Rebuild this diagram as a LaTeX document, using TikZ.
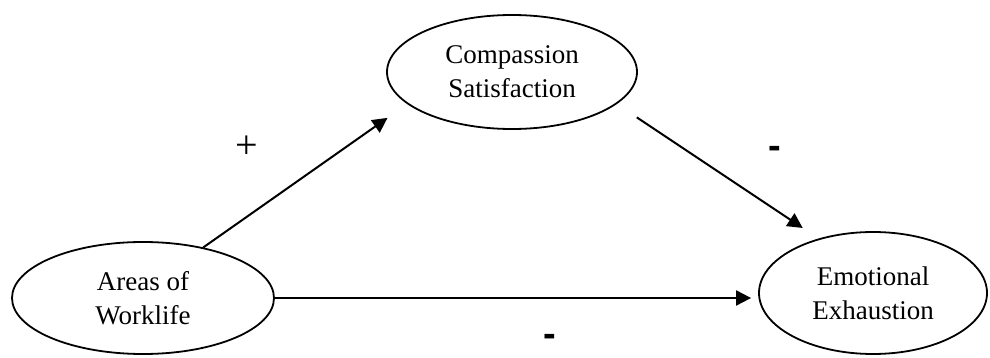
\documentclass[tikz,border=0pt]{standalone}
\usepackage{fontspec}
\setmainfont{Liberation Serif}
\newfontfamily\signfont{Liberation Sans}
\usetikzlibrary{shapes.geometric,arrows.meta}

\begin{document}
\begin{tikzpicture}[x=0.5pt,y=-0.5pt,
        var/.style={draw, ellipse, line width=0.9pt, inner sep=0pt, align=center,
            font=\fontsize{13.5}{17}\selectfont},
        arr/.style={-{Triangle[length=7.5pt,width=7.5pt]}, line width=1pt},
        sign/.style={inner sep=0pt, font=\fontsize{19}{19}\signfont\bfseries},
    ]
    \useasboundingbox (0,0) rectangle (990,358);
    \node[var, minimum width=125pt, minimum height=57pt] (comp) at (512,72) {Compassion\\Satisfaction};
    \node[var, minimum width=131pt, minimum height=56pt] (areas) at (143,298) {Areas of\\Worklife};
    \node[var, minimum width=114pt, minimum height=61pt] (emo) at (873,293) {Emotional\\Exhaustion};

    \draw[arr, shorten >=12pt] (areas.40) -- (comp.197);
    \draw[arr, shorten <=12pt, shorten >=9.5pt] (comp.-17) -- (emo.135);
    \draw[arr, shorten >=3.5pt] (areas.east) -- (areas.east -| emo.west);

    \node[inner sep=0pt, font=\fontsize{20}{20}\selectfont] (plus) at (247,147) {+};
    \node[sign] (minustop) at (775,152) {-};
    \node[sign] (minusbottom) at (550,340) {-};
\end{tikzpicture}
\end{document}
